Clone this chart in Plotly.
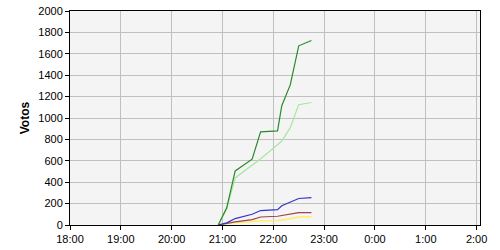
import plotly.graph_objects as go

times = ["2011-05-22 20:55", "2011-05-22 21:05", "2011-05-22 21:15", "2011-05-22 21:35",
         "2011-05-22 21:45", "2011-05-22 22:05", "2011-05-22 22:10", "2011-05-22 22:20",
         "2011-05-22 22:30", "2011-05-22 22:45"]

dark_green = [0, 160, 505, 615, 870, 880, 1115, 1310, 1675, 1725]
light_green = [0, 150, 440, 560, 620, 750, 785, 910, 1125, 1145]
blue = [0, 20, 60, 100, 135, 143, 180, 215, 248, 255]
brown = [0, 15, 30, 50, 75, 82, 88, 100, 115, 115]
yellow = [0, 10, 21, 32, 39, 42, 45, 60, 76, 76]

series = [
    ("light", light_green, "#a8e6a0"),
    ("yellow", yellow, "#ffee44"),
    ("brown", brown, "#a04050"),
    ("blue", blue, "#3333cc"),
    ("dark", dark_green, "#2a8a2a"),
]

y_ticks = list(range(0, 2001, 200))
x_ticks = ["2011-05-22 18:00", "2011-05-22 19:00", "2011-05-22 20:00", "2011-05-22 21:00",
           "2011-05-22 22:00", "2011-05-22 23:00", "2011-05-23 00:00", "2011-05-23 01:00",
           "2011-05-23 02:00"]
x_labels = ["18:00", "19:00", "20:00", "21:00", "22:00", "23:00", "0:00", "1:00", "2:00"]

fig = go.Figure()
for name, vals, color in series:
    fig.add_trace(go.Scatter(x=times, y=vals, mode="lines", name=name,
                             line=dict(color=color, width=1.2)))

fig.update_layout(
    width=500, height=250,
    margin=dict(l=70, r=20, t=5, b=25),
    paper_bgcolor="white", plot_bgcolor="#f4f4f4",
    showlegend=False,
    font=dict(family="Liberation Sans, Arial", size=11, color="black"),
)
fig.update_xaxes(
    type="date",
    range=["2011-05-22 18:00", "2011-05-23 02:04"],
    tickvals=x_ticks, ticktext=x_labels,
    showgrid=True, gridcolor="#c0c0c0", gridwidth=1,
    showline=True, linecolor="black", linewidth=1, mirror=True,
    ticks="outside", ticklen=4, tickcolor="black",
    zeroline=False, ticklabeloverflow="allow",
)
fig.update_yaxes(
    range=[0, 2000.5], tickvals=y_ticks,
    showgrid=True, gridcolor="#c0c0c0", gridwidth=1,
    showline=True, linecolor="black", linewidth=1, mirror=True,
    ticks="outside", ticklen=4, tickcolor="black",
    zeroline=False, ticklabeloverflow="allow",
    title=dict(text="<b>Votos</b>", font=dict(size=12), standoff=6),
)

fig.write_html("out.html")
